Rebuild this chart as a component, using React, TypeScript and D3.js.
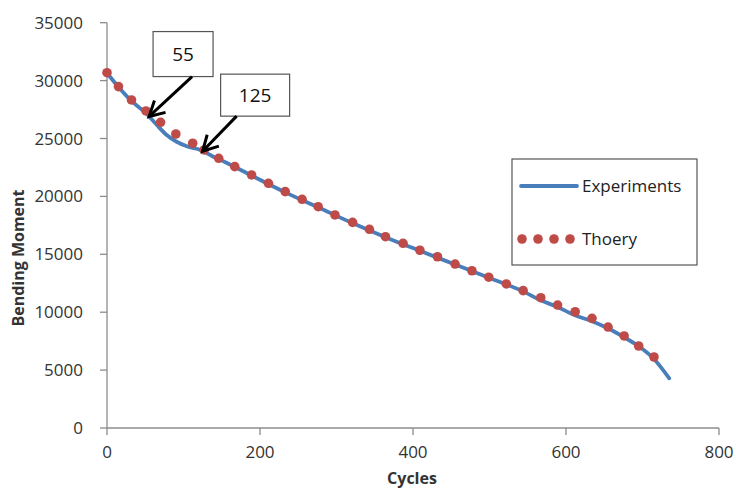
import React, { Component } from "react";
import * as d3 from "d3";

// experiments curve (cycles, bending moment)
const cyclesExp = [0, 15, 32, 51, 64, 78, 91, 106, 122, 139, 154, 189, 233, 276, 320, 364, 409, 455, 500, 544, 566, 588, 611, 633, 655, 676, 697, 715, 735];
const momentExp = [30660, 29450, 28240, 27180, 26250, 25300, 24720, 24290, 24010, 23430, 22970, 21800, 20350, 19060, 17720, 16480, 15300, 14120, 12960, 11800, 11050, 10480, 9760, 9240, 8610, 7830, 6970, 5960, 4290];

// theory points
const cyclesTheory = [0, 15, 32, 51, 70, 90, 112, 127, 146, 167, 189, 211, 233, 255, 276, 298, 321, 343, 364, 387, 409, 432, 455, 477, 499, 522, 544, 567, 589, 612, 634, 655, 676, 695, 715];
const momentTheory = [30680, 29480, 28330, 27380, 26400, 25390, 24590, 24010, 23290, 22570, 21850, 21130, 20410, 19750, 19110, 18400, 17760, 17160, 16520, 15950, 15350, 14790, 14160, 13580, 13020, 12440, 11860, 11250, 10620, 10040, 9470, 8720, 7950, 7080, 6130];

const xTicks = [0, 200, 400, 600, 800];
const yTicks = [0, 5000, 10000, 15000, 20000, 25000, 30000, 35000];

const callouts = [
  { cycle: 55, label: "55" },
  { cycle: 125, label: "125" },
];

const W = 736;
const H = 490;
const FONT = "'Open Sans', sans-serif";
const BLUE = "#4a7ebb";
const RED = "#be4b48";

class App extends Component {
  el: any = null;

  componentDidMount() {
    document.body.style.margin = "0";
    const svg = d3.select(this.el).append("svg")
      .attr("width", W)
      .attr("height", H)
      .style("display", "block")
      .style("background", "#fff");
    this.drawChart(svg);
  }

  drawChart(svg: any) {
    const x = d3.scaleLinear().domain([0, 800]).range([107, 719]);
    const y = d3.scaleLinear().domain([0, 35000]).range([428, 22.7]);

    // axes
    svg.append("line")
      .attr("x1", x(0)).attr("x2", x(0)).attr("y1", y(35000)).attr("y2", y(0))
      .attr("stroke", "#8c8c8c").attr("stroke-width", 1.3);
    svg.append("line")
      .attr("x1", x(0)).attr("x2", x(800)).attr("y1", y(0)).attr("y2", y(0))
      .attr("stroke", "#8c8c8c").attr("stroke-width", 1.3);

    svg.selectAll(".ytick").data(yTicks).join("line")
      .attr("x1", x(0) - 7).attr("x2", x(0))
      .attr("y1", (d: number) => y(d)).attr("y2", (d: number) => y(d))
      .attr("stroke", "#8c8c8c").attr("stroke-width", 1.3);
    svg.selectAll(".ylab").data(yTicks).join("text")
      .attr("x", 83).attr("y", (d: number) => y(d) + 6)
      .attr("text-anchor", "end")
      .attr("font-family", FONT).attr("font-size", 17).attr("fill", "#333")
      .text((d: number) => String(d));

    svg.selectAll(".xtick").data(xTicks).join("line")
      .attr("x1", (d: number) => x(d)).attr("x2", (d: number) => x(d))
      .attr("y1", y(0)).attr("y2", y(0) + 7)
      .attr("stroke", "#8c8c8c").attr("stroke-width", 1.3);
    svg.selectAll(".xlab").data(xTicks).join("text")
      .attr("x", (d: number) => x(d)).attr("y", 458)
      .attr("text-anchor", "middle")
      .attr("font-family", FONT).attr("font-size", 17).attr("fill", "#333")
      .text((d: number) => String(d));

    svg.append("text")
      .attr("x", 412).attr("y", 484)
      .attr("text-anchor", "middle")
      .attr("font-family", FONT).attr("font-size", 16).attr("font-weight", "bold").attr("fill", "#333")
      .text("Cycles");
    svg.append("text")
      .attr("transform", "translate(24,258) rotate(-90)")
      .attr("text-anchor", "middle")
      .attr("font-family", FONT).attr("font-size", 16).attr("font-weight", "bold").attr("fill", "#333")
      .text("Bending Moment");

    // experiments line
    const line = d3.line<number>()
      .x((d, i) => x(cyclesExp[i]))
      .y((d) => y(d))
      .curve(d3.curveMonotoneX);
    svg.append("path")
      .attr("d", line(momentExp))
      .attr("fill", "none")
      .attr("stroke", BLUE)
      .attr("stroke-width", 3.8)
      .attr("stroke-linejoin", "round")
      .attr("stroke-linecap", "round");

    // theory dots
    svg.selectAll(".dot").data(momentTheory).join("circle")
      .attr("cx", (d: number, i: number) => x(cyclesTheory[i]))
      .attr("cy", (d: number) => y(d))
      .attr("r", 4.8)
      .attr("fill", RED);

    // callouts: box offset from the arrow tip, arrow tail at box bottom
    const interp = d3.scaleLinear().domain(cyclesExp).range(momentExp);
    const boxes = [
      { dx: 4, dy: -40, w: 60, h: 45, sx: 43, sy: -40 },
      { dx: 18, dy: -35, w: 69, h: 42, sx: 34, sy: -35 },
    ];
    callouts.forEach((c, i) => {
      const tx = x(c.cycle);
      const ty = y(interp(c.cycle));
      const b = boxes[i];
      const bx = tx + b.dx;
      const by = ty + b.dy - b.h;
      svg.append("rect")
        .attr("x", bx).attr("y", by).attr("width", b.w).attr("height", b.h)
        .attr("fill", "#fff").attr("stroke", "#555").attr("stroke-width", 1.2);
      svg.append("text")
        .attr("x", bx + b.w / 2).attr("y", by + b.h / 2 + 7)
        .attr("text-anchor", "middle")
        .attr("font-family", FONT).attr("font-size", 19).attr("fill", "#111")
        .text(c.label);
      const sx = tx + b.sx;
      const sy = ty + b.sy;
      const ang = Math.atan2(sy - ty, sx - tx);
      const len = 17;
      const spread = 0.5;
      svg.append("line")
        .attr("x1", sx).attr("y1", sy).attr("x2", tx + 2 * Math.cos(ang)).attr("y2", ty + 2 * Math.sin(ang))
        .attr("stroke", "#000").attr("stroke-width", 3);
      svg.append("path")
        .attr("d", `M${tx + len * Math.cos(ang - spread)},${ty + len * Math.sin(ang - spread)} L${tx},${ty} L${tx + len * Math.cos(ang + spread)},${ty + len * Math.sin(ang + spread)}`)
        .attr("fill", "none").attr("stroke", "#000").attr("stroke-width", 3)
        .attr("stroke-linejoin", "miter");
    });

    // legend
    svg.append("rect")
      .attr("x", 512).attr("y", 159).attr("width", 185).attr("height", 106)
      .attr("fill", "#fff").attr("stroke", "#555").attr("stroke-width", 1.2);
    svg.append("line")
      .attr("x1", 521).attr("x2", 577).attr("y1", 186).attr("y2", 186)
      .attr("stroke", BLUE).attr("stroke-width", 3.8).attr("stroke-linecap", "round");
    svg.append("text")
      .attr("x", 582).attr("y", 192)
      .attr("font-family", FONT).attr("font-size", 17).attr("fill", "#222")
      .text("Experiments");
    svg.selectAll(".ldot").data([0, 1, 2, 3]).join("circle")
      .attr("cx", (d: number) => 522 + d * 16)
      .attr("cy", 239)
      .attr("r", 4.8)
      .attr("fill", RED);
    svg.append("text")
      .attr("x", 582).attr("y", 245)
      .attr("font-family", FONT).attr("font-size", 17).attr("fill", "#222")
      .text("Thoery");
  }

  render() {
    return <div ref={(el) => { this.el = el; }} />;
  }
}

export default App;
